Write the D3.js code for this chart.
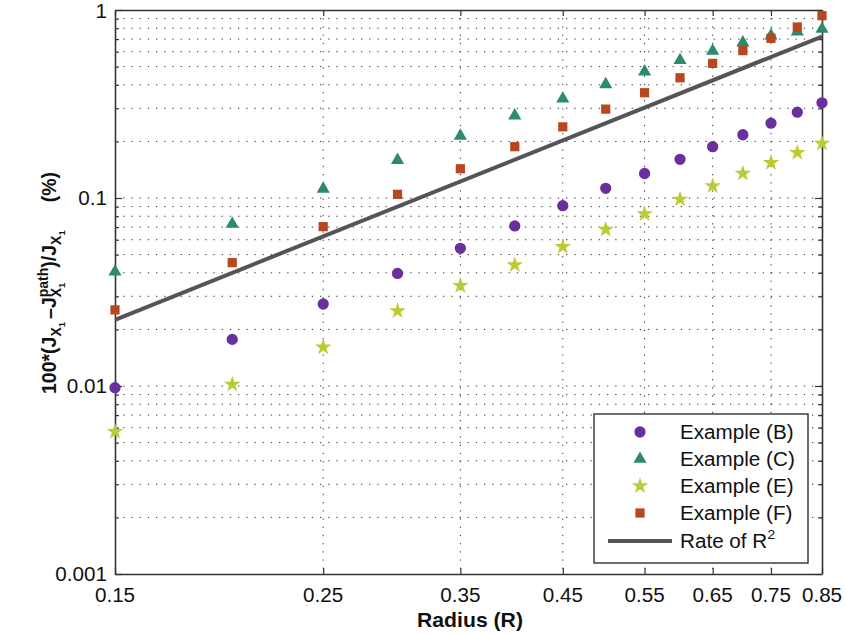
<!DOCTYPE html>
<html>
<head>
<meta charset="utf-8">
<script src="https://cdn.jsdelivr.net/npm/d3@7"></script>
<style>
  html, body { margin: 0; padding: 0; background: #fff; }
  svg { display: block; font-family: "Liberation Sans", Arial, Helvetica, sans-serif; }
</style>
</head>
<body>
<svg id="chart" width="846" height="636"></svg>
<script>
// ---------- data ----------
const radius   = [0.15, 0.20, 0.25, 0.30, 0.35, 0.40, 0.45, 0.50, 0.55, 0.60, 0.65, 0.70, 0.75, 0.80, 0.85];
const exampleB = [0.0098, 0.0177, 0.0273, 0.0397, 0.054, 0.071, 0.091, 0.1126, 0.135, 0.1606, 0.1875, 0.217, 0.250, 0.286, 0.321];
const exampleC = [0.0405, 0.0727, 0.1117, 0.159, 0.2138, 0.274, 0.337, 0.402, 0.470, 0.540, 0.605, 0.670, 0.73, 0.767, 0.792];
const exampleE = [0.00571, 0.0102, 0.0161, 0.0251, 0.0342, 0.044, 0.0551, 0.0681, 0.0822, 0.0984, 0.116, 0.135, 0.154, 0.174, 0.195];
const exampleF = [0.0254, 0.0453, 0.0704, 0.1046, 0.143, 0.1875, 0.239, 0.297, 0.363, 0.436, 0.520, 0.608, 0.707, 0.812, 0.933];
const rateX    = [0.15, 0.85];
const rateY    = [0.0225, 0.7225];
const xTicks   = [0.15, 0.25, 0.35, 0.45, 0.55, 0.65, 0.75, 0.85];
const xTickLabels = ["0.15", "0.25", "0.35", "0.45", "0.55", "0.65", "0.75", "0.85"];
const yTicks   = [0.001, 0.01, 0.1, 1];
const yTickLabels = ["0.001", "0.01", "0.1", "1"];
const legendLabels = ["Example (B)", "Example (C)", "Example (E)", "Example (F)", "Rate of R"];

// ---------- styles ----------
const colB = "#6a2e9f", colC = "#2c8a6d", colE = "#bccb34", colF = "#b8461e", colLine = "#555555";
const SX = 1.06;
const FS = 19.5;
const svg = d3.select("#chart");
const L = 115, R = 822, T = 10, B = 574;

const x = d3.scaleLog().domain([0.15, 0.85]).range([L, R]);
const y = d3.scaleLog().domain([0.001, 1]).range([B, T]);

function stext(parent, px, py, str, size, anchor, weight) {
  return parent.append("text")
    .attr("transform", `translate(${px},${py}) scale(${SX},1)`)
    .attr("text-anchor", anchor || "start")
    .style("font-size", size + "px")
    .style("font-weight", weight || "normal")
    .attr("fill", "#111")
    .text(str);
}

// ---------- grid ----------
const grid = svg.append("g");
const yMinor = y.ticks();
grid.selectAll("line.hg").data(yMinor.filter(v => v > 0.001 * 1.0001 && v < 0.9999))
  .join("line").attr("class", "hg")
  .attr("x1", L).attr("x2", R)
  .attr("y1", d => y(d)).attr("y2", d => y(d))
  .attr("stroke", "#333").attr("stroke-width", 1).attr("stroke-dasharray", "1.3,6.9");
grid.selectAll("line.vg").data(xTicks.slice(1, -1))
  .join("line").attr("class", "vg")
  .attr("x1", d => x(d)).attr("x2", d => x(d))
  .attr("y1", T).attr("y2", B)
  .attr("stroke", "#333").attr("stroke-width", 1).attr("stroke-dasharray", "1.3,6.9");

// ---------- axes frame & ticks (d3 axes) ----------
const isMajor = v => yTicks.some(t => Math.abs(Math.log10(v) - Math.log10(t)) < 1e-6);
const axL = d3.axisLeft(y).tickValues(yMinor).tickFormat("").tickSizeOuter(0).tickSizeInner(-4);
const axR = d3.axisRight(y).tickValues(yMinor).tickFormat("").tickSizeOuter(0).tickSizeInner(-4);
const axB = d3.axisBottom(x).tickValues(xTicks).tickFormat("").tickSizeOuter(0).tickSizeInner(-6);
const axT = d3.axisTop(x).tickValues(xTicks).tickFormat("").tickSizeOuter(0).tickSizeInner(-6);
const gL = svg.append("g").attr("transform", `translate(${L},0)`).call(axL);
const gR = svg.append("g").attr("transform", `translate(${R},0)`).call(axR);
const gB = svg.append("g").attr("transform", `translate(0,${B})`).call(axB);
const gT = svg.append("g").attr("transform", `translate(0,${T})`).call(axT);
gL.selectAll(".tick line").attr("x2", d => isMajor(d) ? 7 : 4);
gR.selectAll(".tick line").attr("x2", d => isMajor(d) ? -7 : -4);
[gL, gR, gB, gT].forEach(g => {
  g.selectAll(".domain").attr("stroke", "#333").attr("stroke-width", 1.6);
  g.selectAll(".tick line").attr("stroke", "#333").attr("stroke-width", 1.2);
});

// tick labels
yTicks.forEach((v, i) => stext(svg, 107, Math.max(y(v) + 7, 18), yTickLabels[i], FS, "end"));
xTicks.forEach((v, i) => stext(svg, x(v), 602, xTickLabels[i], FS, "middle"));

// x label
stext(svg, 470, 627, "Radius (R)", 20, "middle", "bold");

// y label (rich text, rotated)
(function () {
  const g = svg.append("g");
  const inner = g.append("g");
  let cx = 0;
  function piece(str, size, dy, advance) {
    const t = inner.append("text").attr("x", cx).attr("y", dy)
      .style("font-size", size + "px").style("font-weight", "bold").attr("fill", "#111").text(str);
    const w = t.node().getComputedTextLength();
    if (advance !== false) cx += w;
    return w;
  }
  const big = 19.5, mid = 14, sm = 9.5;
  piece("100*(J", big, 0);
  piece("X", mid, 5);
  piece("1", sm, 9);
  cx += 3;
  piece("\u2013J", big, 0);
  const start = cx;
  const wp = piece("path", mid, -8.5, false);
  piece("X", mid, 5);
  piece("1", sm, 9);
  cx = Math.max(cx, start + wp);
  piece(")/J", big, 0);
  piece("X", mid, 5);
  piece("1", sm, 9);
  cx += 28;
  piece("(%)", big, 0);
  const total = cx;
  inner.attr("transform", `translate(${-total / 2},0)`);
  g.attr("transform", `translate(56,${283}) rotate(-90)`);
})();

// ---------- rate line ----------
const lineGen = d3.line().x(d => x(d[0])).y(d => y(d[1]));

// ---------- markers ----------
const series = [
  { vals: exampleB, sym: d3.symbolCircle, size: 100, col: colB },
  { vals: exampleC, sym: d3.symbolTriangle, size: 75, col: colC },
  { vals: exampleE, sym: d3.symbolStar, size: 85, col: colE },
  { vals: exampleF, sym: d3.symbolSquare, size: 85, col: colF }
];
series.forEach(s => {
  svg.append("g").selectAll("path").data(radius.map((r, i) => [r, s.vals[i]]))
    .join("path")
    .attr("transform", d => `translate(${x(d[0])},${y(d[1])})`)
    .attr("d", d3.symbol(s.sym, s.size))
    .attr("fill", s.col);
});
svg.append("path").datum(rateX.map((v, i) => [v, rateY[i]]))
  .attr("d", lineGen).attr("fill", "none").attr("stroke", colLine).attr("stroke-width", 4);

// ---------- legend ----------
const lg = svg.append("g");
lg.append("rect").attr("x", 594).attr("y", 414).attr("width", 214).attr("height", 149)
  .attr("fill", "#fff").attr("stroke", "#333").attr("stroke-width", 1.4);
const rowY = [432, 459, 486, 513, 541];
series.forEach((s, i) => {
  lg.append("path").attr("transform", `translate(640,${rowY[i]})`)
    .attr("d", d3.symbol(s.sym, s.size)).attr("fill", s.col);
});
lg.append("line").attr("x1", 608).attr("x2", 672).attr("y1", rowY[4]).attr("y2", rowY[4])
  .attr("stroke", colLine).attr("stroke-width", 4);
legendLabels.forEach((lab, i) => {
  const t = stext(lg, 680, rowY[i] + 7, lab, FS, "start");
  if (i === 4) t.append("tspan").attr("dy", -9.5).style("font-size", "13.5px").text("2");
});
</script>
</body>
</html>
